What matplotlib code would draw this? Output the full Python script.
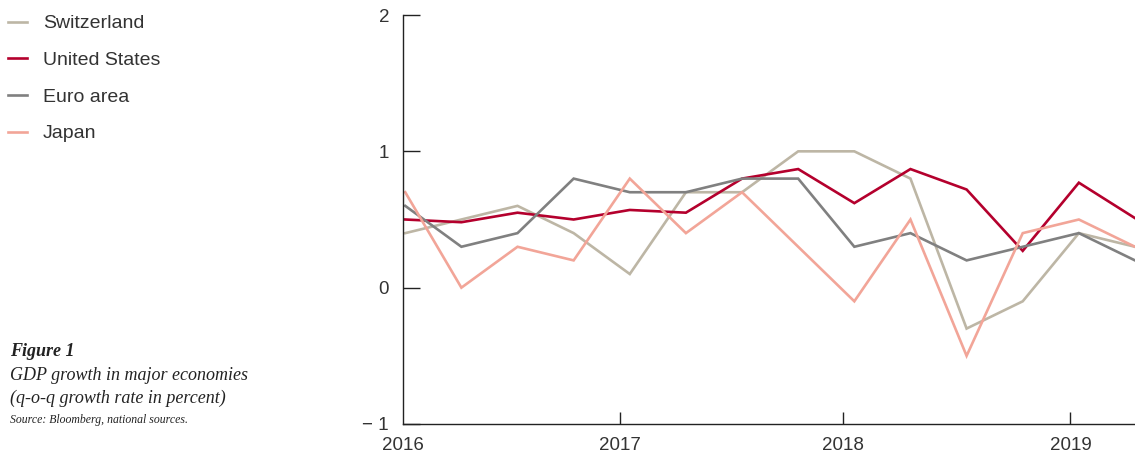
import matplotlib
matplotlib.use("Agg")
import matplotlib.pyplot as plt

quarters = ["2016Q1", "2016Q2", "2016Q3", "2016Q4", "2017Q1", "2017Q2", "2017Q3",
            "2017Q4", "2018Q1", "2018Q2", "2018Q3", "2018Q4", "2019Q1", "2019Q2"]
switzerland = [0.4, 0.5, 0.6, 0.4, 0.1, 0.7, 0.7, 1.0, 1.0, 0.8, -0.3, -0.1, 0.4, 0.3]
united_states = [0.5, 0.48, 0.55, 0.5, 0.57, 0.55, 0.8, 0.87, 0.62, 0.87, 0.72, 0.27, 0.77, 0.51]
euro_area = [0.6, 0.3, 0.4, 0.8, 0.7, 0.7, 0.8, 0.8, 0.3, 0.4, 0.2, 0.3, 0.4, 0.2]
japan = [0.7, 0.0, 0.3, 0.2, 0.8, 0.4, 0.7, 0.3, -0.1, 0.5, -0.5, 0.4, 0.5, 0.3]
year_labels = ["2016", "2017", "2018", "2019"]
year_tick_pos = [-0.04, 3.82, 7.80, 11.85]
y_ticks = [-1, 0, 1, 2]
y_labels = ["\u2212 1", "0", "1", "2"]

series = [
    ("Switzerland", switzerland, "#bdb6a5"),
    ("United States", united_states, "#b4002d"),
    ("Euro area", euro_area, "#808080"),
    ("Japan", japan, "#f2a598"),
]

fig = plt.figure(figsize=(11.35, 4.57), dpi=100)
ax = fig.add_axes([403 / 1135, 1 - 424 / 457, 1 - 403 / 1135, (424 - 15) / 457])

x = list(range(len(quarters)))
handles = []
for name, vals, col in series:
    (ln,) = ax.plot(x, vals, color=col, lw=1.9, label=name, solid_joinstyle="miter")
    handles.append(ln)

ax.set_xlim(-0.04, 13.0)
ax.set_ylim(-1, 2)
for s in ["top", "right"]:
    ax.spines[s].set_visible(False)
for s in ["left", "bottom"]:
    ax.spines[s].set_linewidth(1.0)
    ax.spines[s].set_color("#222222")

txt_font = ["Liberation Sans", "DejaVu Sans"]
ax.set_yticks(y_ticks)
ax.set_yticklabels(y_labels, fontsize=13.5, color="#333333", family=txt_font)
ax.tick_params(axis="y", direction="in", length=12, width=1.0, pad=10, colors="#222222")
ax.set_xticks(year_tick_pos)
ax.set_xticklabels(year_labels, fontsize=13.5, color="#333333", family=txt_font)
ax.tick_params(axis="x", direction="in", length=9, width=1.0, pad=9, colors="#222222")
ax.xaxis.get_major_ticks()[0].tick1line.set_visible(False)
for lab in ax.get_yticklabels() + ax.get_xticklabels():
    lab.set_color("#333333")

leg = fig.legend(handles=handles, loc="upper left", bbox_to_anchor=(0.0, 1 - 7 / 457),
                 frameon=False, handlelength=1.0, handletextpad=0.82, labelspacing=0.98,
                 borderaxespad=0.0, prop={"family": txt_font, "size": 14})
for t in leg.get_texts():
    t.set_color("#333333")

serif = ["Liberation Serif", "DejaVu Serif"]
fig.text(10 / 1135, 1 - 351 / 457, "Figure 1", family=serif, style="italic", weight="bold",
         fontsize=13, color="#222222", va="center")
fig.text(10 / 1135, 1 - 375 / 457, "GDP growth in major economies", family=serif, style="italic",
         fontsize=13, color="#222222", va="center")
fig.text(10 / 1135, 1 - 398 / 457, "(q-o-q growth rate in percent)", family=serif, style="italic",
         fontsize=13, color="#222222", va="center")
fig.text(10 / 1135, 1 - 420 / 457, "Source: Bloomberg, national sources.", family=serif, style="italic",
         fontsize=8.5, color="#222222", va="center")

fig.savefig("out.png", dpi=100)
